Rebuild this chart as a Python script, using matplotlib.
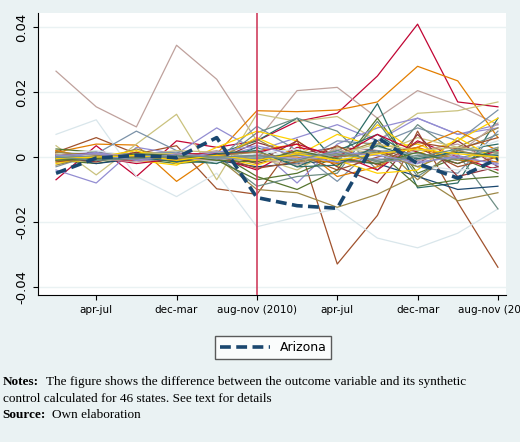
import matplotlib
matplotlib.use("Agg")
import matplotlib.pyplot as plt
import numpy as np

periods = list(range(12))
tick_pos = [1, 3, 5, 7, 9, 11]
tick_labels = ["apr-jul", "dec-mar", "aug-nov (2010)", "apr-jul", "dec-mar", "aug-nov (2012)"]
treat_period = 5

arizona = [-5.0, -0.3, 0.5, -0.2, 6.0, -12.5, -15.0, -15.8, 6.0, -2.0, -6.5, -0.5]

# placebo states, values in thousandths
placebos = [
    [-7.0, 3.5, -6.0, 5.0, 3.0, 5.0, 11.0, 13.5, 25.0, 41.0, 17.0, 15.5],
    [26.5, 15.5, 9.3, 34.5, 24.0, 5.0, 20.5, 21.5, 12.0, 20.5, 16.0, 10.0],
    [1.5, 4.0, 3.7, -7.5, 1.0, 14.3, 14.0, 14.5, 17.0, 28.0, 23.5, 6.0],
    [1.5, 6.0, 1.0, 3.5, -9.8, -11.5, 5.5, -33.0, -18.0, 8.0, -14.0, -34.0],
    [7.0, 11.5, -6.0, -12.2, -5.0, -21.5, -18.5, -16.0, -25.0, -28.0, -23.5, -16.0],
    [3.5, -5.5, 4.0, 13.2, -7.0, 13.3, 11.0, 12.5, 5.0, 13.5, 14.3, 17.0],
    [-4.0, -8.0, 3.0, 1.0, 9.0, 2.0, 6.0, 10.0, 5.0, 12.0, 7.0, 10.0],
    [-3.0, 1.0, 8.0, 2.0, -1.0, 9.5, 2.0, -7.5, 4.0, 9.0, 5.0, 14.5],
    [0.0, -1.0, 1.0, -1.0, 1.0, 5.0, 12.0, -2.0, 16.5, -9.5, -8.0, 12.0],
    [1.0, 0.0, -0.5, 0.5, -2.0, 7.5, 12.0, 8.0, -4.0, 10.0, 1.0, -16.0],
    [2.0, -1.0, 2.5, -1.0, 0.0, -10.0, -11.0, -15.5, -11.5, -5.5, -13.5, -11.0],
    [-1.0, -2.0, 0.0, 0.5, 1.5, -6.0, -10.0, -4.0, 12.0, -5.0, 0.0, -5.0],
    [0.5, 1.5, 0.5, -1.5, 0.0, 3.0, -8.0, 4.0, 9.0, 12.0, 7.0, 9.0],
    [-2.0, 0.0, -1.0, -2.5, 3.0, 8.0, 5.0, -3.0, 10.0, 1.0, 5.0, 12.0],
    [0.0, -0.5, 0.0, -1.0, 0.5, -9.0, -6.0, -5.0, 11.0, -6.0, 2.0, 7.0],
    [1.0, 1.0, -1.0, 0.0, -1.0, 4.5, 1.0, 3.0, 2.0, -2.0, 5.0, -3.0],
    [-1.5, -1.0, 1.5, 1.0, -0.5, 6.0, 0.5, 7.0, 3.0, 4.0, -1.0, 3.0],
    [0.5, -2.0, -0.5, -1.0, -1.0, -3.0, -2.0, -1.0, -2.0, -6.0, -10.0, -9.0],
    [-0.5, 0.5, 1.0, 0.0, 0.5, 2.0, 4.0, -6.0, -3.0, 3.0, 8.0, 2.0],
    [2.5, 1.5, -0.5, -2.0, -1.0, -7.0, -5.0, 0.0, 2.0, -9.0, -7.0, -6.0],
    [-0.5, -1.5, 0.5, 2.0, 1.5, 0.0, -4.0, 3.0, 1.0, 6.0, 3.0, 1.0],
    [1.0, 0.0, -2.0, -0.5, 0.0, -4.0, 3.0, 1.0, -4.0, 5.0, 0.0, -4.0],
    [0.0, 1.0, 1.0, 1.5, -1.5, 1.0, -2.0, 5.0, 4.0, -3.0, -5.0, 8.0],
    [-1.0, -0.5, -1.5, 0.0, 2.0, -1.0, 2.0, -2.0, -1.0, 2.0, 4.0, -2.0],
    [0.5, 0.5, 0.0, -1.0, -2.0, 3.0, -3.0, 2.0, 7.0, -1.0, 2.0, 4.0],
    [1.5, -1.0, 0.5, 0.5, 1.0, -2.0, 1.0, -4.0, 0.0, 3.0, -3.0, 0.0],
    [-2.5, 0.5, -0.5, 1.0, -0.5, 5.5, -1.0, 0.5, 5.0, -7.0, 3.0, 9.0],
    [0.0, -1.5, 1.5, -1.5, 0.5, -1.5, 5.0, -3.0, -8.0, 7.0, -6.0, -3.0],
    [1.0, 2.0, 0.0, 0.0, -1.5, 2.5, -0.5, 1.5, 3.0, 0.0, 1.0, 5.0],
    [-1.0, 0.0, 2.0, -2.0, 0.0, -2.5, 1.5, -1.0, -5.0, -4.0, 6.0, -1.0],
    [0.5, -0.5, -1.0, 1.0, 1.0, 1.5, 4.0, 0.0, 7.0, 1.5, -2.0, 2.0],
    [-0.5, 1.0, 0.5, -0.5, -1.0, -0.5, -2.5, 2.5, -1.5, -1.0, 1.0, 10.5],
    [2.0, -0.5, -0.5, 0.5, 0.0, 0.5, 0.0, -2.0, 1.0, 3.0, -1.0, -1.5],
    [-1.5, 0.0, 0.0, -1.0, 0.5, -3.5, -1.5, 3.5, -2.5, 4.5, 2.5, 6.0],
    [0.0, 0.5, -0.5, 0.0, -0.5, 1.0, 2.5, -0.5, 1.0, -2.5, -4.0, -3.5],
    [1.0, -1.0, 1.0, 1.0, 0.0, -1.0, -1.0, 1.0, 4.0, 2.0, 3.0, 1.5],
    [-1.0, 1.5, -1.0, -0.5, 1.5, 3.5, 0.5, -1.5, -0.5, -2.0, 0.5, -2.5],
    [0.5, 0.0, 0.5, 0.5, -0.5, -0.5, 1.0, 0.5, 2.0, 1.0, -0.5, 3.0],
    [-0.5, -1.0, 0.0, -1.5, 1.0, 2.0, -3.0, -2.5, 3.5, -0.5, 1.5, 0.5],
    [0.0, 0.0, -0.5, 0.0, 0.0, 0.0, 0.5, 1.0, -1.0, 0.5, -1.0, 1.0],
    [1.5, 0.5, 0.0, -0.5, 0.5, 1.5, -1.5, 0.0, 1.5, -3.0, 2.0, -0.5],
    [-1.0, -0.5, 1.0, 0.5, -1.0, -1.5, 2.0, -0.5, -2.0, 1.5, -2.0, 2.5],
    [0.5, 1.0, -1.0, 1.0, 0.0, 0.5, -0.5, 1.5, 0.5, -1.5, 0.0, -2.0],
    [-0.5, 0.0, 0.5, -1.0, 0.5, -1.0, 1.0, -1.0, 1.0, 2.5, 1.0, 0.0],
    [0.0, -1.0, -0.5, 0.5, 0.0, 0.5, -1.0, 2.0, -1.5, 0.0, 2.5, 1.5],
]

palette = ["#c10534", "#bfa19c", "#e37e00", "#a0522d", "#d9e6eb", "#cac27e",
           "#938dd2", "#7b92a8", "#2d6d66", "#6e8e84", "#9c8847", "#55752f",
           "#938dd2", "#ffd200", "#6e8e84", "#90353b", "#ffd200", "#1a476f",
           "#e37e00", "#55752f", "#cac27e", "#c10534", "#7b92a8", "#bfa19c",
           "#2d6d66", "#a0522d", "#9c8847", "#90353b", "#d9e6eb", "#ffd200"]

fig = plt.figure(figsize=(5.2, 4.42), dpi=100)
fig.patch.set_facecolor("#eaf2f3")
ax = fig.add_axes([0.073, 0.333, 0.9, 0.638])
ax.set_facecolor("white")

for i, s in enumerate(placebos):
    ax.plot(periods, np.array(s) / 1000, color=palette[i % len(palette)], lw=0.9, zorder=2)
ax.plot(periods, np.array(arizona) / 1000, color="#1a476f", lw=2.6, ls=(0, (3, 1.5)), zorder=4,
        label="Arizona")
ax.axvline(treat_period, color="#d0405f", lw=1.2, zorder=5)

ax.set_xlim(-0.45, 11.2)
ax.set_ylim(-0.0425, 0.0445)
ax.set_yticks([-0.04, -0.02, 0, 0.02, 0.04])
ax.set_yticklabels(["-0.04", "-0.02", "0", "0.02", "0.04"], rotation=90, va="center")
ax.set_xticks(tick_pos)
ax.set_xticklabels(tick_labels, fontsize=7.5)
ax.tick_params(axis="y", labelsize=9.5)
ax.grid(axis="y", color="#eaf2f3", lw=1)
ax.set_axisbelow(True)
for sp in ["top", "right"]:
    ax.spines[sp].set_visible(False)

leg = fig.legend(loc="center", bbox_to_anchor=(0.525, 0.213), frameon=True, fancybox=False,
                 fontsize=9, handlelength=4)
leg.get_frame().set_edgecolor("#333333")
leg.get_frame().set_facecolor("white")

fs = 9.5
ser = "Liberation Serif"
fig.text(0.005, 0.135, "Notes:", fontsize=fs, family=ser, weight="bold", va="center")
fig.text(0.088, 0.135, "The figure shows the difference between the outcome variable and its synthetic",
         fontsize=fs, family=ser, va="center")
fig.text(0.005, 0.097, "control calculated for 46 states. See text for details",
         fontsize=fs, family=ser, va="center")
fig.text(0.005, 0.062, "Source:", fontsize=fs, family=ser, weight="bold", va="center")
fig.text(0.1, 0.062, "Own elaboration", fontsize=fs, family=ser, va="center")

fig.savefig("out.png", dpi=100, facecolor=fig.get_facecolor())
